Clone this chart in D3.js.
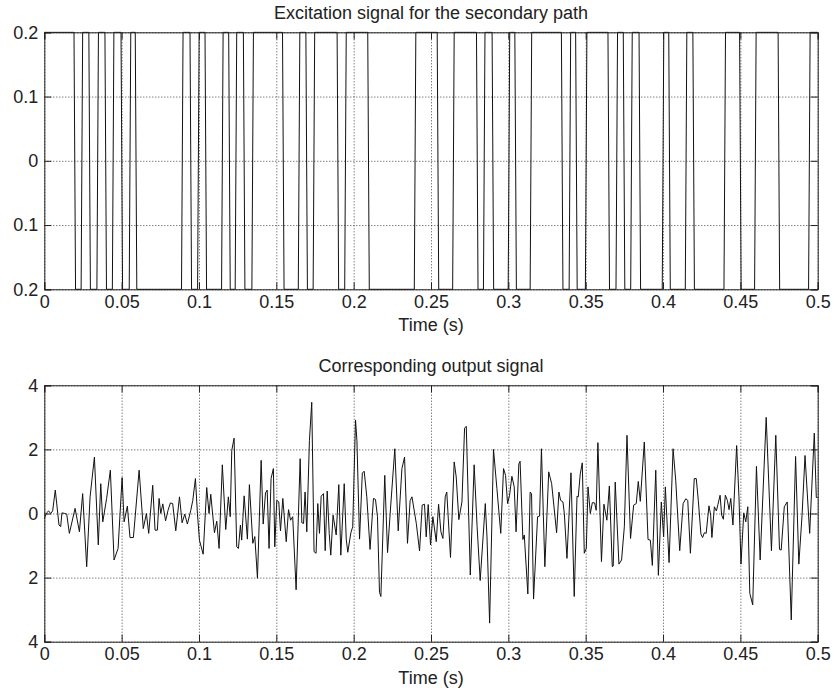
<!DOCTYPE html>
<html>
<head>
<meta charset="utf-8">
<script src="https://cdn.jsdelivr.net/npm/d3@7"></script>
<style>
body { margin: 0; background: #fff; }
text { font-family: "Liberation Sans", Arial, Helvetica, sans-serif; font-size: 18px; fill: #222; }
.grid line { stroke: #333; stroke-width: 0.9; stroke-dasharray: 1,2; }
.grid path { display: none; }
.axis path, .axis line { stroke: #222; stroke-width: 1; }
</style>
</head>
<body>
<div id="chart"></div>
<script>
// excitation: PRBS level, switching times (s)
var excStart = 0.2;
var excRamp = 0.001;
var excSwitch = [0.0197, 0.0243, 0.0293, 0.0345, 0.0397, 0.0445, 0.0501, 0.0554, 0.0593,
    0.0892, 0.0947, 0.0996, 0.1044, 0.1151, 0.1197, 0.1239, 0.1292, 0.1347, 0.1545,
    0.1647, 0.1696, 0.1743, 0.1898, 0.1947, 0.2096, 0.2397, 0.2545, 0.2645, 0.2799,
    0.2844, 0.2900, 0.3004, 0.3047, 0.3146, 0.3348, 0.3398, 0.3440, 0.3503, 0.3649,
    0.3701, 0.3748, 0.3796, 0.3850, 0.4000, 0.4042, 0.4149, 0.4198, 0.4399, 0.4500,
    0.4597, 0.4749, 0.4946];

// output signal: time (ms) and value
var outT = [0, 1.5, 2.8, 4.1, 5.4, 7.1, 9.5, 10.6, 11.4, 13.2, 14.5, 16.2, 19.9, 22.7, 24.8,
    27.4, 29.6, 32.4, 34.9, 36.5, 37.8, 40.3, 42.7, 45.1, 47.7, 50.3, 51.6, 53.7, 55.4, 57.6,
    61.3, 64.0, 66.0, 67.5, 70.1, 71.6, 73.1, 74.2, 75.3, 76.6, 78.4, 80.0, 81.5, 83.0, 85.0,
    87.4, 89.1, 90.8, 92.5, 94.7, 96.0, 97.7, 99.0, 100.3, 102.7, 105.0, 106.5, 107.6, 110.0,
    111.5, 113.0, 115.1, 117.3, 119.0, 120.2, 121.2, 122.7, 124.4, 125.5, 126.8, 127.6, 129.2,
    131.3, 132.6, 134.8, 136.1, 137.8, 140.2, 141.5, 143.0, 144.1, 145.3, 146.6, 148.1, 149.0,
    150.3, 151.6, 152.7, 154.2, 156.4, 157.9, 159.2, 160.6, 162.8, 165.4, 166.5, 167.6, 168.6,
    169.7, 171.4, 172.9, 174.4, 175.7, 176.8, 177.9, 179.0, 180.5, 181.6, 182.9, 184.2, 185.2,
    186.7, 188.7, 190.4, 191.7, 193.9, 195.2, 196.2, 198.2, 199.4, 201.2, 202.1, 203.8, 205.6,
    206.8, 208.5, 210.6, 212.8, 214.1, 215.4, 216.7, 217.6, 220.1, 221.9, 223.6, 226.6, 228.8,
    231.2, 232.9, 234.8, 236.5, 237.7, 240.5, 242.6, 244.3, 245.8, 246.9, 248.2, 249.7, 251.2,
    253.4, 254.9, 256.4, 257.7, 259.2, 260.2, 262.6, 265.0, 266.3, 268.0, 270.0, 271.7, 272.8,
    275.4, 277.9, 279.8, 281.8, 285.1, 286.2, 287.9, 290.4, 292.6, 295.1, 296.9, 298.2, 299.5,
    300.8, 302.3, 303.8, 305.0, 306.8, 307.6, 309.4, 310.3, 312.6, 314.1, 315.0, 316.3, 318.9,
    320.2, 321.4, 323.6, 326.1, 328.0, 331.2, 332.7, 333.8, 335.3, 336.2, 337.9, 340.5, 342.6,
    344.4, 345.2, 346.5, 347.8, 349.1, 350.4, 351.5, 353.0, 354.3, 355.8, 356.8, 357.9, 360.2,
    361.8, 363.7, 365.3, 367.2, 367.8, 369.1, 371.5, 373.2, 375.0, 376.7, 379.0, 381.0, 382.7,
    384.0, 385.3, 387.9, 390.3, 391.8, 393.1, 395.3, 397.0, 398.9, 400.4, 401.5, 403.9, 406.5,
    408.2, 410.8, 413.0, 414.7, 416.0, 417.7, 420.2, 421.5, 422.8, 424.5, 425.6, 426.7, 427.9,
    429.7, 430.8, 431.6, 433.2, 434.5, 435.5, 436.9, 437.9, 439.0, 440.3, 441.6, 442.7, 443.8,
    445.2, 447.6, 449.1, 450.4, 452.2, 453.5, 454.8, 456.1, 458.0, 460.4, 462.8, 466.7, 470.1,
    472.9, 475.3, 476.4, 478.4, 480.3, 482.9, 485.7, 487.8, 489.9, 491.8, 494.8, 497.8, 499.1,
    500.0];
var outV = [-0.16, 0.02, 0.08, 0.0, 0.08, 0.73, -0.36, -0.41, 0.02, 0.0, -0.02, -0.62, 0.16, -0.57, 0.62,
    -1.66, 0.52, 1.76, -0.98, 0.93, -0.26, 0.47, 1.35, -1.45, -1.09, 1.12, -0.26, 0.23, -0.75, -0.75,
    1.35, -0.47, 0.0, -0.62, 0.88, -0.52, -0.52, 0.47, 0.0, 0.3, -0.23, 0.1, 0.33, 0.31, -0.54,
    0.52, -0.29, -0.02, -0.33, 0.1, 0.41, 1.09, 0.0, -0.83, -1.27, 0.81, 0.0, 0.6, -0.6,
    -0.24, -1.09, 1.52, -0.5, 0.52, -0.1, 1.97, 2.35, -1.04, -1.09, -0.36, -0.83, 0.55,
    -0.8, 0.9, -0.93, -0.72, -2.02, 1.66, -0.33, 0.64, 0.73, -1.09, 1.09, 1.4, -1.04,
    0.41, 0.36, -0.54, 0.47, -0.88, 0.12, -0.21, -0.1, -2.38, 1.71, -0.29, -0.31, 0.67,
    -0.57, 2.28, 3.47, -1.19, -1.24, 0.31, -0.62, 0.54, 0.62, -1.16, 0.7, -0.62, -1.3,
    -0.05, -0.67, 0.9, -1.3, 0.93, -0.8, -1.21, -0.6, -0.41, 2.92, 2.28, -0.8, 1.26,
    1.32, 0.52, -1.12, 0.47, 0.44, -0.1, -2.46, -2.59, 1.19, -1.22, 0.0, 2.02, -0.54,
    1.4, 1.76, -0.93, 0.4, 0.52, -0.31, -1.17, 0.26, 0.29, -0.73, 0.28, -0.98, -0.1,
    -0.88, 0.29, -0.57, -0.78, 0.52, 0.67, -1.37, 1.61, 1.14, -0.19, 0.36, 2.66, 2.72,
    -1.92, 1.52, -0.41, -2.09, 0.31, -0.73, -3.42, 2.0, 0.78, -0.62, 1.4, 1.19, 0.31,
    0.57, 1.16, 0.83, -0.57, 1.55, 1.63, -0.81, -0.67, -2.51, 0.67, 0.62, -2.67, -0.1,
    -0.08, 2.02, -1.66, 1.3, 0.93, -0.6, 0.67, 0.41, 0.36, 0.0, -1.4, 1.27, -2.59,
    0.54, 0.52, 1.24, 1.58, -1.24, -1.09, 0.83, 0.0, 0.34, 0.33, 0.1, 2.21, -1.5,
    0.29, -0.21, 0.86, -1.66, -1.64, 0.98, -1.58, -1.45, -0.41, 2.44, -0.78, 0.26, 0.31,
    1.0, 0.38, 2.23, -0.81, -0.83, -1.62, 1.35, -1.93, 0.36, -0.73, 0.83, -1.53, 2.02,
    1.04, -1.16, 0.31, 0.46, 0.41, -1.24, 1.09, 1.09, 0.41, -0.64, -0.75, -0.6, -0.62,
    0.24, -0.05, -0.75, 0.21, 0.08, 0.28, 0.57, -0.05, -0.18, 0.57, 0.41, 0.12, 0.47,
    -0.36, 2.12, 0.52, -1.58, 0.02, -0.26, 0.21, -2.49, -2.85, 1.47, -1.45, 3.0, -1.16,
    2.44, -1.12, -1.14, 0.21, 0.36, -3.32, 1.78, -1.58, -0.05, 1.81, -0.62, 2.51, 0.5,
    0.5];

// ticks
var xTicks = [0, 0.05, 0.1, 0.15, 0.2, 0.25, 0.3, 0.35, 0.4, 0.45, 0.5];
var xTickLabels = ["0", "0.05", "0.1", "0.15", "0.2", "0.25", "0.3", "0.35", "0.4", "0.45", "0.5"];
var yTicks1 = [0.2, 0.1, 0, -0.1, -0.2];
var yTickLabels1 = ["0.2", "0.1", "0", "0.1", "0.2"];
var yTicks2 = [4, 2, 0, -2, -4];
var yTickLabels2 = ["4", "2", "0", "2", "4"];

var titles = ["Excitation signal for the secondary path", "Corresponding output signal"];
var xLabel = "Time (s)";

// layout
var W = 834, H = 688,
    left = 44.3, right = 817.7,
    panels = [{top: 32.3, bottom: 289.3}, {top: 385.3, bottom: 641.7}],
    tick = 7;

var svg = d3.select("#chart").append("svg")
    .attr("width", W)
    .attr("height", H);

var x = d3.scaleLinear().domain([0, 0.5]).range([0, right - left]);
var width = right - left;

// excitation polyline from switching times
var excPoints = [];
var level = excStart;
excPoints.push([0, level]);
excSwitch.forEach(function(t) {
    excPoints.push([t - excRamp / 2, level]);
    level = -level;
    excPoints.push([t + excRamp / 2, level]);
});
excPoints.push([0.5, level]);

var outPoints = outT.map(function(t, i) { return [t / 1000, outV[i]]; });

var specs = [
    {dom: [-0.2, 0.2], ticks: yTicks1, labels: yTickLabels1, data: excPoints, title: titles[0]},
    {dom: [-4, 4], ticks: yTicks2, labels: yTickLabels2, data: outPoints, title: titles[1]}
];

specs.forEach(function(s, k) {
    var p = panels[k];
    var height = p.bottom - p.top;
    var y = d3.scaleLinear().domain(s.dom).range([height, 0]);

    var g = svg.append("g")
        .attr("transform", "translate(" + left + "," + p.top + ")");

    g.append("clipPath").attr("id", "clip" + k)
        .append("rect").attr("x", -1).attr("y", -1)
        .attr("width", width + 2).attr("height", height + 2);

    // grid
    g.append("g").attr("class", "grid")
        .attr("transform", "translate(0," + height + ")")
        .call(d3.axisBottom(x).tickValues(xTicks).tickSize(-height).tickFormat(""));
    g.append("g").attr("class", "grid")
        .call(d3.axisLeft(y).tickValues(s.ticks).tickSize(-width).tickFormat(""));

    // signal
    var line = d3.line()
        .x(function(d) { return x(d[0]); })
        .y(function(d) { return y(d[1]); });

    g.append("path")
        .datum(s.data)
        .attr("clip-path", "url(#clip" + k + ")")
        .attr("fill", "none")
        .attr("stroke", "#111")
        .attr("stroke-width", 1)
        .attr("stroke-linejoin", "round")
        .attr("d", line);

    // axes, ticks pointing in
    var xb = g.append("g").attr("class", "axis")
        .attr("transform", "translate(0," + height + ")")
        .call(d3.axisBottom(x).tickValues(xTicks).tickSize(-tick).tickPadding(6)
            .tickFormat(function(d, i) { return xTickLabels[i]; }));
    xb.selectAll("text").attr("fill", "#222").attr("font-size", null).attr("font-family", null);

    g.append("g").attr("class", "axis")
        .call(d3.axisTop(x).tickValues(xTicks).tickSize(-tick).tickFormat(""));

    var yl = g.append("g").attr("class", "axis")
        .call(d3.axisLeft(y).tickValues(s.ticks).tickSize(-tick).tickPadding(6)
            .tickFormat(function(d, i) { return s.labels[i]; }));
    yl.selectAll("text").attr("fill", "#222").attr("font-size", null).attr("font-family", null);

    g.append("g").attr("class", "axis")
        .attr("transform", "translate(" + width + ",0)")
        .call(d3.axisRight(y).tickValues(s.ticks).tickSize(-tick).tickFormat(""));

    g.selectAll(".axis path").attr("stroke", "#222");

    // title and x label
    g.append("text")
        .attr("x", width / 2)
        .attr("y", -13)
        .attr("text-anchor", "middle")
        .text(s.title);

    g.append("text")
        .attr("x", width / 2)
        .attr("y", height + 42)
        .attr("text-anchor", "middle")
        .text(xLabel);
});
</script>
</body>
</html>
